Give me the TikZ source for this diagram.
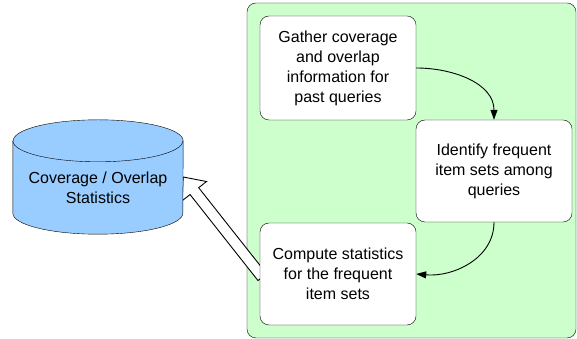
\documentclass[tikz,border=0pt]{standalone}
\usepackage{fontspec}
\setmainfont{Liberation Sans}
\usetikzlibrary{arrows.meta,calc}
\definecolor{pgreen}{RGB}{204,255,204}
\definecolor{pblue}{RGB}{153,204,255}
\pgfdeclarelayer{back}
\pgfdeclarelayer{mid}
\pgfsetlayers{back,mid,main}
\begin{document}
\begin{tikzpicture}[x=1pt,y=1pt,line width=1pt,
  txt/.style={font=\fontsize{16}{20}\selectfont, align=center},
  stepbox/.style={txt, draw, fill=white, rounded corners=9pt, minimum width=156pt, minimum height=102pt, inner sep=0pt},
  flow/.style={-{Triangle[length=10pt,width=7pt]}, line width=0.9pt}]
\useasboundingbox (0,0) rectangle (577,339);
% container
\begin{pgfonlayer}{back}
\node[draw, fill=pgreen, rounded corners=9pt, minimum width=329pt, minimum height=335pt, inner sep=0pt] (area) at (411.5,168.5) {};
\end{pgfonlayer}
% cylinder body reference node
\node[minimum width=170pt, minimum height=114pt, inner sep=0pt] (db) at (98,162) {};
% boxes
\node[stepbox, minimum height=104pt] (a) at (338,271) {Gather coverage\\and overlap\\information for\\past queries};
\node[stepbox] (b) at (494,168) {Identify frequent\\item sets among\\queries};
\node[stepbox] (c) at (338,65) {Compute statistics\\for the frequent\\item sets};
% hollow arrow (tail under box c)
\coordinate (tip) at (db.east);
\coordinate (tl) at ($(c.west)!-4pt!(db.east)$);
\coordinate (hb) at ($(tip)!18pt!(tl)$);
\begin{pgfonlayer}{mid}
\draw[fill=white, line width=0.9pt]
  ($(tl)!5.5pt!90:(tip)$) -- ($(hb)!5.5pt!90:(tip)$) -- ($(hb)!15.5pt!90:(tip)$) -- (tip)
  -- ($(hb)!15.5pt!-90:(tip)$) -- ($(hb)!5.5pt!-90:(tip)$) -- ($(tl)!5.5pt!-90:(tip)$) -- cycle;
\end{pgfonlayer}
% flow arrows
\draw[flow] (a.east) to[out=0,in=90] (b.north);
\draw[flow] (b.south) to[out=-90,in=-5] (c.east);
% cylinder
\draw[fill=pblue] ($(db.north west)+(0,-21)$) -- ($(db.south west)+(0,21)$)
  arc[start angle=180, end angle=360, x radius=85pt, y radius=21pt]
  -- ($(db.north east)+(0,-21)$)
  arc[start angle=0, end angle=180, x radius=85pt, y radius=21pt] -- cycle;
\draw ($(db.north west)+(0,-21)$) arc[start angle=180, end angle=360, x radius=85pt, y radius=21pt];
\node[txt] (dbt) at (98,151) {Coverage / Overlap\\Statistics};
\end{tikzpicture}
\end{document}
